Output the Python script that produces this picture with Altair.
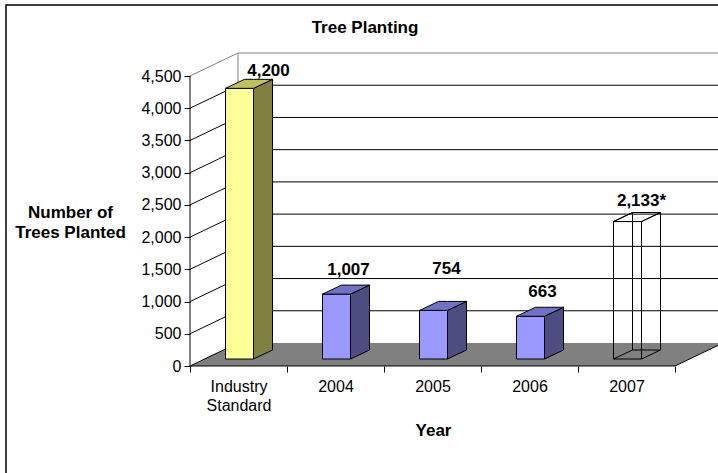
import altair as alt
import pandas as pd

# ---------------- data ----------------
categories = ["Industry Standard", "2004", "2005", "2006", "2007"]
trees_planted = [4200, 1007, 754, 663, 2133]
projected = [False, False, False, False, True]
y_tick_values = [0, 500, 1000, 1500, 2000, 2500, 3000, 3500, 4000, 4500]

# ---------------- layout / style ----------------
FONT = "Liberation Sans"
VIEW_W, VIEW_H = 528, 313
PAD = {"left": 190, "top": 53, "right": 0, "bottom": 107}
PX_PER_CAT = 97.0
PX_PER_VAL = 290.0 / 4500.0
X_MAX = VIEW_W / PX_PER_CAT
Y_MAX = VIEW_H / PX_PER_VAL


def ux(px):
    return px / PX_PER_CAT


def uy(px):
    return px / PX_PER_VAL


WALL_DX, WALL_DY = ux(48), uy(23)
BAR_W, BAR_DX, BAR_DY = ux(28), ux(19), uy(9)
BAR_BASE, BAR_SHIFT = uy(7), ux(1)
N = len(categories)
TOP_V = max(y_tick_values)

FACE_COLORS = {"Industry Standard": ("#FFFF99", "#808040", "#C0C060")}
DEFAULT_COLORS = ("#9999FF", "#4D4D80", "#7272C4")
LABEL_NUDGE = {"Industry Standard": (29, 8), "2005": (13, 32), "2007": (14, 12)}
DEFAULT_NUDGE = (12, 15)

# ---------------- build geometry tables from data ----------------
rects, areas, labels = [], [], []
for i, (cat, v, proj) in enumerate(zip(categories, trees_planted, projected)):
    if proj:
        front = side = top = "transparent"
    else:
        front, side, top = FACE_COLORS.get(cat, DEFAULT_COLORS)
    c = i + 0.5 + BAR_SHIFT
    xl, xr = c - BAR_W / 2, c + BAR_W / 2
    b, t = BAR_BASE, BAR_BASE + v
    rects.append(dict(x=xl, x2=xr, y=b, y2=t, fill=front))
    fid = f"{i}-side"
    areas += [dict(face=fid, x=xr, y=b, y2=t, fill=side),
              dict(face=fid, x=xr + BAR_DX, y=b + BAR_DY, y2=t + BAR_DY, fill=side)]
    fid = f"{i}-top"
    areas += [dict(face=fid, x=xl, y=t, y2=t, fill=top),
              dict(face=fid, x=xl + BAR_DX, y=t, y2=t + BAR_DY, fill=top),
              dict(face=fid, x=xr, y=t, y2=t + BAR_DY, fill=top),
              dict(face=fid, x=xr + BAR_DX, y=t + BAR_DY, y2=t + BAR_DY, fill=top)]
    if proj:
        rects.append(dict(x=xl + BAR_DX, x2=xr + BAR_DX, y=b + BAR_DY, y2=t + BAR_DY,
                          fill="transparent"))
        fid = f"{i}-left"
        areas += [dict(face=fid, x=xl, y=b, y2=t, fill="transparent"),
                  dict(face=fid, x=xl + BAR_DX, y=b + BAR_DY, y2=t + BAR_DY, fill="transparent")]
    nx, ny = LABEL_NUDGE.get(cat, DEFAULT_NUDGE)
    labels.append(dict(x=c + ux(nx), y=t + BAR_DY + uy(ny),
                       text=f"{v:,}" + ("*" if proj else "")))

floor = pd.DataFrame([
    dict(face="floor", x=0, y=0, y2=0),
    dict(face="floor", x=WALL_DX, y=0, y2=WALL_DY),
    dict(face="floor", x=N, y=0, y2=WALL_DY),
    dict(face="floor", x=N + WALL_DX, y=WALL_DY, y2=WALL_DY),
])

rules = []
for v in y_tick_values:
    col = "#808080" if v == TOP_V else "#000000"
    rules.append(dict(x=0, x2=WALL_DX, y=v, y2=v + WALL_DY, stroke=col))
    if v > 0:
        rules.append(dict(x=WALL_DX, x2=N + WALL_DX, y=v + WALL_DY, y2=v + WALL_DY, stroke=col))
rules.append(dict(x=WALL_DX, x2=WALL_DX, y=WALL_DY, y2=TOP_V + WALL_DY, stroke="#808080"))
rules.append(dict(x=0, x2=0, y=0, y2=TOP_V, stroke="#000000"))
rules.append(dict(x=0, x2=N, y=0, y2=0, stroke="#000000"))
rules.append(dict(x=N, x2=N + WALL_DX, y=0, y2=WALL_DY, stroke="#000000"))

# ---------------- axes ----------------
label_expr = ""
for i, cat in enumerate(categories):
    parts = cat.split(" ")
    js = "[" + ",".join(f"'{p}'" for p in parts) + "]" if len(parts) > 1 else f"'{cat}'"
    label_expr += f"datum.value === {i + 0.5} ? {js} : "
label_expr += "''"

x_axis = alt.Axis(
    values=[k * 0.5 for k in range(2 * N + 1)],
    labelExpr=label_expr,
    tickOpacity={"condition": {"test": "datum.value % 1 === 0", "value": 1}, "value": 0},
    domain=False, grid=False, tickSize=6, tickColor="black", tickWidth=1,
    labelFontSize=16, labelFont=FONT, labelColor="black", labelPadding=6,
    labelLineHeight=19, labelOverlap=False, labelFlush=False, labelBound=False,
    title="Year", titleFont=FONT, titleFontSize=17, titleFontWeight="bold",
    titleColor="black", titleX=243, titleY=64, titleAlign="center",
    titleBaseline="middle", titleAnchor="start",
)
y_axis = alt.Axis(
    values=y_tick_values, labelExpr="format(datum.value, ',.0f')",
    domain=False, grid=False, tickSize=6, tickColor="black", tickWidth=1,
    labelFontSize=16, labelFont=FONT, labelColor="black", labelPadding=3,
    labelOverlap=False, labelFlush=False, labelBound=False,
    title=["Number of", "Trees Planted"], titleFont=FONT, titleFontSize=17,
    titleFontWeight="bold", titleColor="black", titleAngle=0,
    titleX=-120, titleY=159, titleAlign="center", titleBaseline="middle",
    titleLineHeight=20, titleAnchor="start",
)

XS = alt.Scale(domain=[0, X_MAX], nice=False, zero=False)
YS = alt.Scale(domain=[0, Y_MAX], nice=False, zero=False)


def X():
    return alt.X("x:Q", scale=XS, axis=x_axis)


def Y():
    return alt.Y("y:Q", scale=YS, axis=y_axis)


one = pd.DataFrame({"a": [0]})

border = alt.Chart(one).mark_rect(fill="transparent", stroke="black", strokeWidth=1.5).encode(
    x=alt.value(-184), x2=alt.value(540), y=alt.value(-48), y2=alt.value(430)
)

floor_layer = alt.Chart(floor).mark_area(fill="#808080", stroke=None).encode(
    x=X(), y=Y(), y2="y2:Q", detail="face:N"
)

rule_layer = alt.Chart(pd.DataFrame(rules)).mark_rule(strokeWidth=1).encode(
    x=X(), x2="x2:Q", y=Y(), y2="y2:Q", stroke=alt.Stroke("stroke:N", scale=None)
)

front_layer = alt.Chart(pd.DataFrame(rects)).mark_rect(stroke="black", strokeWidth=1).encode(
    x=X(), x2="x2:Q", y=Y(), y2="y2:Q", fill=alt.Fill("fill:N", scale=None)
)

face_layer = alt.Chart(pd.DataFrame(areas)).mark_area(stroke="black", strokeWidth=1).encode(
    x=X(), y=Y(), y2="y2:Q", detail="face:N", fill=alt.Fill("fill:N", scale=None)
)

label_layer = alt.Chart(pd.DataFrame(labels)).mark_text(
    font=FONT, fontSize=17, fontWeight="bold", color="black", align="center", baseline="middle"
).encode(x=X(), y=Y(), text="text:N")

title_layer = alt.Chart(pd.DataFrame({"t": ["Tree Planting"]})).mark_text(
    font=FONT, fontSize=17, fontWeight="bold", color="black", align="center", baseline="middle"
).encode(x=alt.value(175), y=alt.value(-25), text="t:N")

chart = alt.layer(
    border, floor_layer, rule_layer, front_layer, face_layer, label_layer, title_layer
).properties(
    width=VIEW_W, height=VIEW_H,
    autosize=alt.AutoSizeParams(type="none"),
    padding=PAD,
    background="white",
).configure_view(stroke=None)

chart.save("out.html", embed_options={"renderer": "svg", "actions": False})
